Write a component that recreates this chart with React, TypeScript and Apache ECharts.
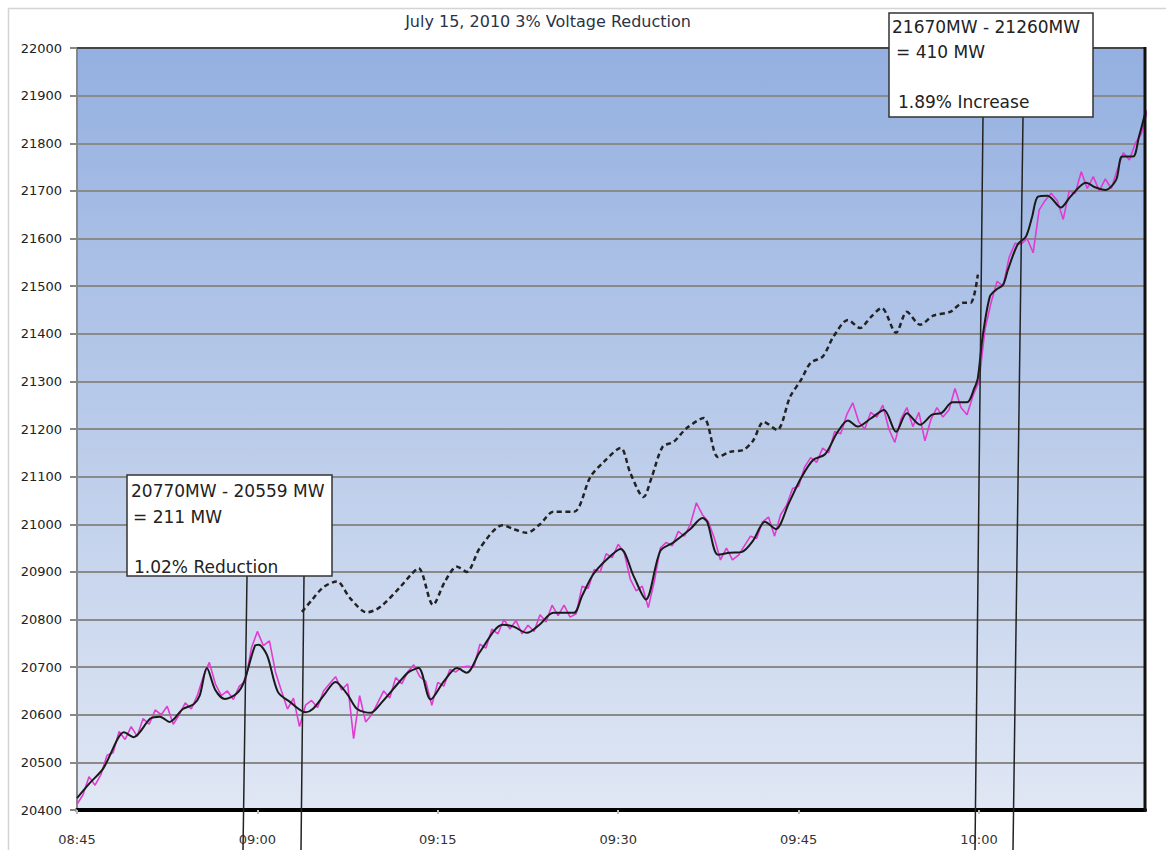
import React, { useEffect, useRef } from "react";
import * as echarts from "echarts";

// Minutes after 08:45
const tickLabels = ["08:45", "09:00", "09:15", "09:30", "09:45", "10:00"];

// Raw (magenta) load samples every 0.5 min from 08:45
const rawLoad = [
  20412, 20432, 20470, 20452, 20475, 20515, 20520, 20565, 20548, 20575,
  20555, 20592, 20580, 20610, 20600, 20618, 20580, 20600, 20625, 20612,
  20640, 20680, 20710, 20665, 20640, 20650, 20632, 20660, 20670, 20740,
  20775, 20745, 20755, 20690, 20650, 20612, 20635, 20575, 20620, 20630,
  20615, 20650, 20665, 20680, 20652, 20665, 20550, 20640, 20585, 20600,
  20625, 20650, 20635, 20678, 20665, 20690, 20705, 20680, 20670, 20620,
  20668, 20660, 20695, 20690, 20700, 20702, 20700, 20748, 20740, 20780,
  20770, 20800, 20780, 20798, 20770, 20788, 20775, 20810, 20795, 20830,
  20808, 20830, 20805, 20812, 20870, 20865, 20905, 20900, 20938, 20930,
  20958, 20940, 20885, 20860, 20870, 20825, 20880, 20950, 20962, 20955,
  20985, 20975, 21000, 21045, 21020, 21005, 20970, 20925, 20950, 20925,
  20935, 20955, 20975, 20970, 21005, 21015, 20975, 21020, 21040, 21075,
  21080, 21120, 21140, 21130, 21160, 21150, 21195, 21190, 21230, 21255,
  21215, 21200, 21235, 21225, 21250, 21200, 21172, 21220, 21245, 21205,
  21235, 21175, 21220, 21245, 21225, 21240, 21285, 21245, 21230, 21270,
  21300, 21410, 21465, 21510, 21500, 21560, 21590, 21588, 21600, 21570,
  21660, 21680, 21695, 21680, 21640, 21700, 21695, 21740, 21705, 21730,
  21700, 21725, 21705, 21745, 21780, 21765, 21800, 21820, 21870,
];
const rawStep = 0.5;

// Smoothed actual load (solid black)
const smoothT = [
  0, 1.0, 2.2, 3.4, 3.9, 4.7, 6.1, 6.9, 7.7, 8.8, 9.7, 10.2, 10.8, 11.5, 12.3,
  13.3, 13.9, 14.8, 15.1, 15.8, 16.7, 17.7, 19.0, 19.6, 20.5, 21.5, 22.5, 23.3,
  24.4, 25.3, 26.9, 27.6, 28.4, 29.4, 30.5, 31.6, 32.4, 33.5, 35.4, 36.3, 37.4,
  38.5, 39.6, 41.3, 42.0, 42.9, 44.0, 45.2, 46.3, 47.3, 48.5, 49.6, 51.0, 52.0,
  52.4, 53.3, 54.3, 55.3, 56.2, 57.2, 58.1, 59.2, 60.2, 61.2, 62.2, 63.2, 64.1,
  64.9, 66.0, 67.1, 68.1, 69.0, 70.1, 71.1, 71.9, 72.8, 74.0, 74.6, 74.9, 75.3,
  75.9, 76.4, 77.0, 77.4, 78.2, 78.9, 79.4, 79.9, 80.7, 81.8, 82.6, 83.9, 84.7,
  85.5, 86.4, 86.9, 87.8, 88.3, 88.8,
];
const smoothV = [
  20425, 20455, 20488, 20550, 20563, 20553, 20592, 20596, 20585, 20612, 20622,
  20640, 20698, 20652, 20633, 20645, 20670, 20745, 20747, 20725, 20648, 20627,
  20605, 20612, 20640, 20669, 20642, 20612, 20604, 20625, 20672, 20690, 20698,
  20632, 20670, 20698, 20688, 20732, 20789, 20785, 20772, 20790, 20814, 20814,
  20850, 20894, 20925, 20948, 20890, 20842, 20944, 20962, 20990, 21013, 21005,
  20936, 20940, 20942, 20965, 21005, 20990, 21045, 21097, 21135, 21147, 21192,
  21218, 21205, 21222, 21240, 21194, 21233, 21209, 21230, 21234, 21256, 21256,
  21285, 21307, 21394, 21478, 21492, 21503, 21534, 21587, 21604, 21644, 21688,
  21690, 21665, 21688, 21717, 21707, 21702, 21723, 21772, 21772, 21814, 21862,
];

// Load without voltage reduction (dashed)
const baseT = [
  18.7, 19.5, 20.5, 21.6, 22.7, 24.1, 25.2, 26.9, 27.8, 28.4, 29.6, 30.6, 31.6,
  32.4, 33.5, 35.4, 36.3, 37.4, 38.5, 39.6, 41.3, 42.7, 43.8, 45.2, 46.0, 47.1,
  47.8, 48.7, 49.6, 50.7, 52.1, 53.3, 54.3, 55.4, 56.2, 57.1, 58.2, 59.3, 60.2,
  61.0, 62.0, 62.9, 64.1, 65.1, 66.0, 66.9, 68.1, 69.0, 70.1, 71.2, 72.6, 73.7,
  74.3, 74.9,
];
const baseV = [
  20816, 20840, 20868, 20880, 20845, 20815, 20826, 20869, 20895, 20908, 20831,
  20880, 20911, 20900, 20950, 20998, 20990, 20982, 21000, 21026, 21026, 21100,
  21131, 21160, 21108, 21057, 21100, 21163, 21173, 21202, 21223, 21141, 21152,
  21156, 21175, 21215, 21198, 21268, 21303, 21339, 21352, 21394, 21429, 21412,
  21435, 21454, 21402, 21446, 21419, 21438, 21446, 21465, 21465, 21524,
];

const titleText = "July 15, 2010 3% Voltage Reduction";
const note1 = ["20770MW - 20559 MW", "= 211 MW", "1.02% Reduction"];
const note2 = ["21670MW - 21260MW", "= 410 MW", "1.89% Increase"];

export default function App() {
  const ref = useRef<HTMLDivElement>(null);
  useEffect(() => {
    if (!ref.current) return;
    const chart = echarts.init(ref.current, undefined, { renderer: "svg" });
    const rawData = rawLoad.map((v, i) => [i * rawStep, v]);
    const smoothData = smoothT.map((t, i) => [t, smoothV[i]]);
    const baseData = baseT.map((t, i) => [t, baseV[i]]);
    const font = '"DejaVu Sans", sans-serif';
    const boxFont = '17px "DejaVu Sans", sans-serif';
    const lineStyle = { stroke: "#222", lineWidth: 1.5 };
    const textEl = (x: number, y: number, text: string) => ({
      type: "text",
      x,
      y,
      z: 20,
      style: { text, font: boxFont, fill: "#222", verticalAlign: "middle" },
    });
    chart.setOption({
      animation: false,
      backgroundColor: "#fff",
      title: {
        text: titleText,
        left: 543,
        top: 8,
        textAlign: "center",
        textStyle: { fontFamily: font, fontSize: 16, fontWeight: "normal", color: "#2a3248" },
      },
      grid: {
        left: 77,
        right: 21,
        top: 48,
        bottom: 40,
        show: true,
        borderWidth: 0,
        backgroundColor: new echarts.graphic.LinearGradient(0, 0, 0, 1, [
          { offset: 0, color: "#94b0e0" },
          { offset: 1, color: "#e0e7f4" },
        ]),
      },
      xAxis: {
        type: "value",
        min: 0,
        max: 88.8,
        interval: 15,
        axisLine: { show: true, onZero: false, lineStyle: { color: "#000", width: 4 } },
        axisTick: { show: true, length: 4, lineStyle: { color: "#bbb", width: 2 } },
        splitLine: { show: false },
        axisLabel: {
          showMaxLabel: false,
          margin: 23,
          fontFamily: font,
          fontSize: 13,
          color: "#333",
          formatter: (v: number) => {
            const idx = Math.round(v / 15);
            return Math.abs(v - idx * 15) < 0.01 ? tickLabels[idx] || "" : "";
          },
        },
      },
      yAxis: {
        type: "value",
        min: 20400,
        max: 22000,
        interval: 100,
        axisLine: { show: true, lineStyle: { color: "#888", width: 2 } },
        axisTick: { show: true, length: 7, lineStyle: { color: "#888", width: 2 } },
        splitLine: { show: true, lineStyle: { color: "#8a8a8a", width: 2 } },
        axisLabel: {
          margin: 15,
          fontFamily: font,
          fontSize: 13,
          color: "#222",
          formatter: (v: number) => String(Math.round(v)),
        },
      },
      series: [
        {
          type: "line",
          data: rawData,
          showSymbol: false,
          lineStyle: { color: "#e03ccf", width: 1.6 },
          z: 3,
        },
        {
          type: "line",
          data: smoothData,
          showSymbol: false,
          smooth: 0.3,
          lineStyle: { color: "#1a1a1a", width: 2 },
          z: 4,
        },
        {
          type: "line",
          data: baseData,
          showSymbol: false,
          smooth: 0.3,
          lineStyle: { color: "#222", width: 2.5, type: [5, 3.5] },
          z: 4,
        },
      ],
      graphic: [
        { type: "rect", z: 0, silent: true, shape: { x: 8.5, y: 8.5, width: 1200, height: 900 }, style: { fill: "none", stroke: "#d4d4d4", lineWidth: 1.5 } },
        { type: "line", z: 5, shape: { x1: 77, y1: 48, x2: 1145, y2: 48 }, style: { stroke: "#444", lineWidth: 2 } },
        { type: "line", z: 5, shape: { x1: 1145, y1: 47, x2: 1145, y2: 812 }, style: { stroke: "#111", lineWidth: 3 } },
        // annotation 1
        { type: "line", z: 19, shape: { x1: 247, y1: 576, x2: 243, y2: 850 }, style: lineStyle },
        { type: "line", z: 19, shape: { x1: 304, y1: 576, x2: 301, y2: 850 }, style: lineStyle },
        { type: "rect", z: 19, shape: { x: 127, y: 475, width: 205, height: 101 }, style: { fill: "#fff", stroke: "#333", lineWidth: 1.5 } },
        textEl(131, 491, note1[0]),
        textEl(133, 517, note1[1]),
        textEl(134, 567, note1[2]),
        // annotation 2
        { type: "line", z: 19, shape: { x1: 983, y1: 117, x2: 975, y2: 850 }, style: lineStyle },
        { type: "line", z: 19, shape: { x1: 1023, y1: 117, x2: 1013, y2: 850 }, style: lineStyle },
        { type: "rect", z: 19, shape: { x: 889, y: 13, width: 204, height: 104 }, style: { fill: "#fff", stroke: "#333", lineWidth: 1.5 } },
        textEl(892, 27, note2[0]),
        textEl(896, 52, note2[1]),
        textEl(898, 102, note2[2]),
      ],
    });
    return () => chart.dispose();
  }, []);
  return (
    <div
      ref={ref}
      style={{ position: "fixed", left: 0, top: 0, width: 1166, height: 850, background: "#fff" }}
    />
  );
}
